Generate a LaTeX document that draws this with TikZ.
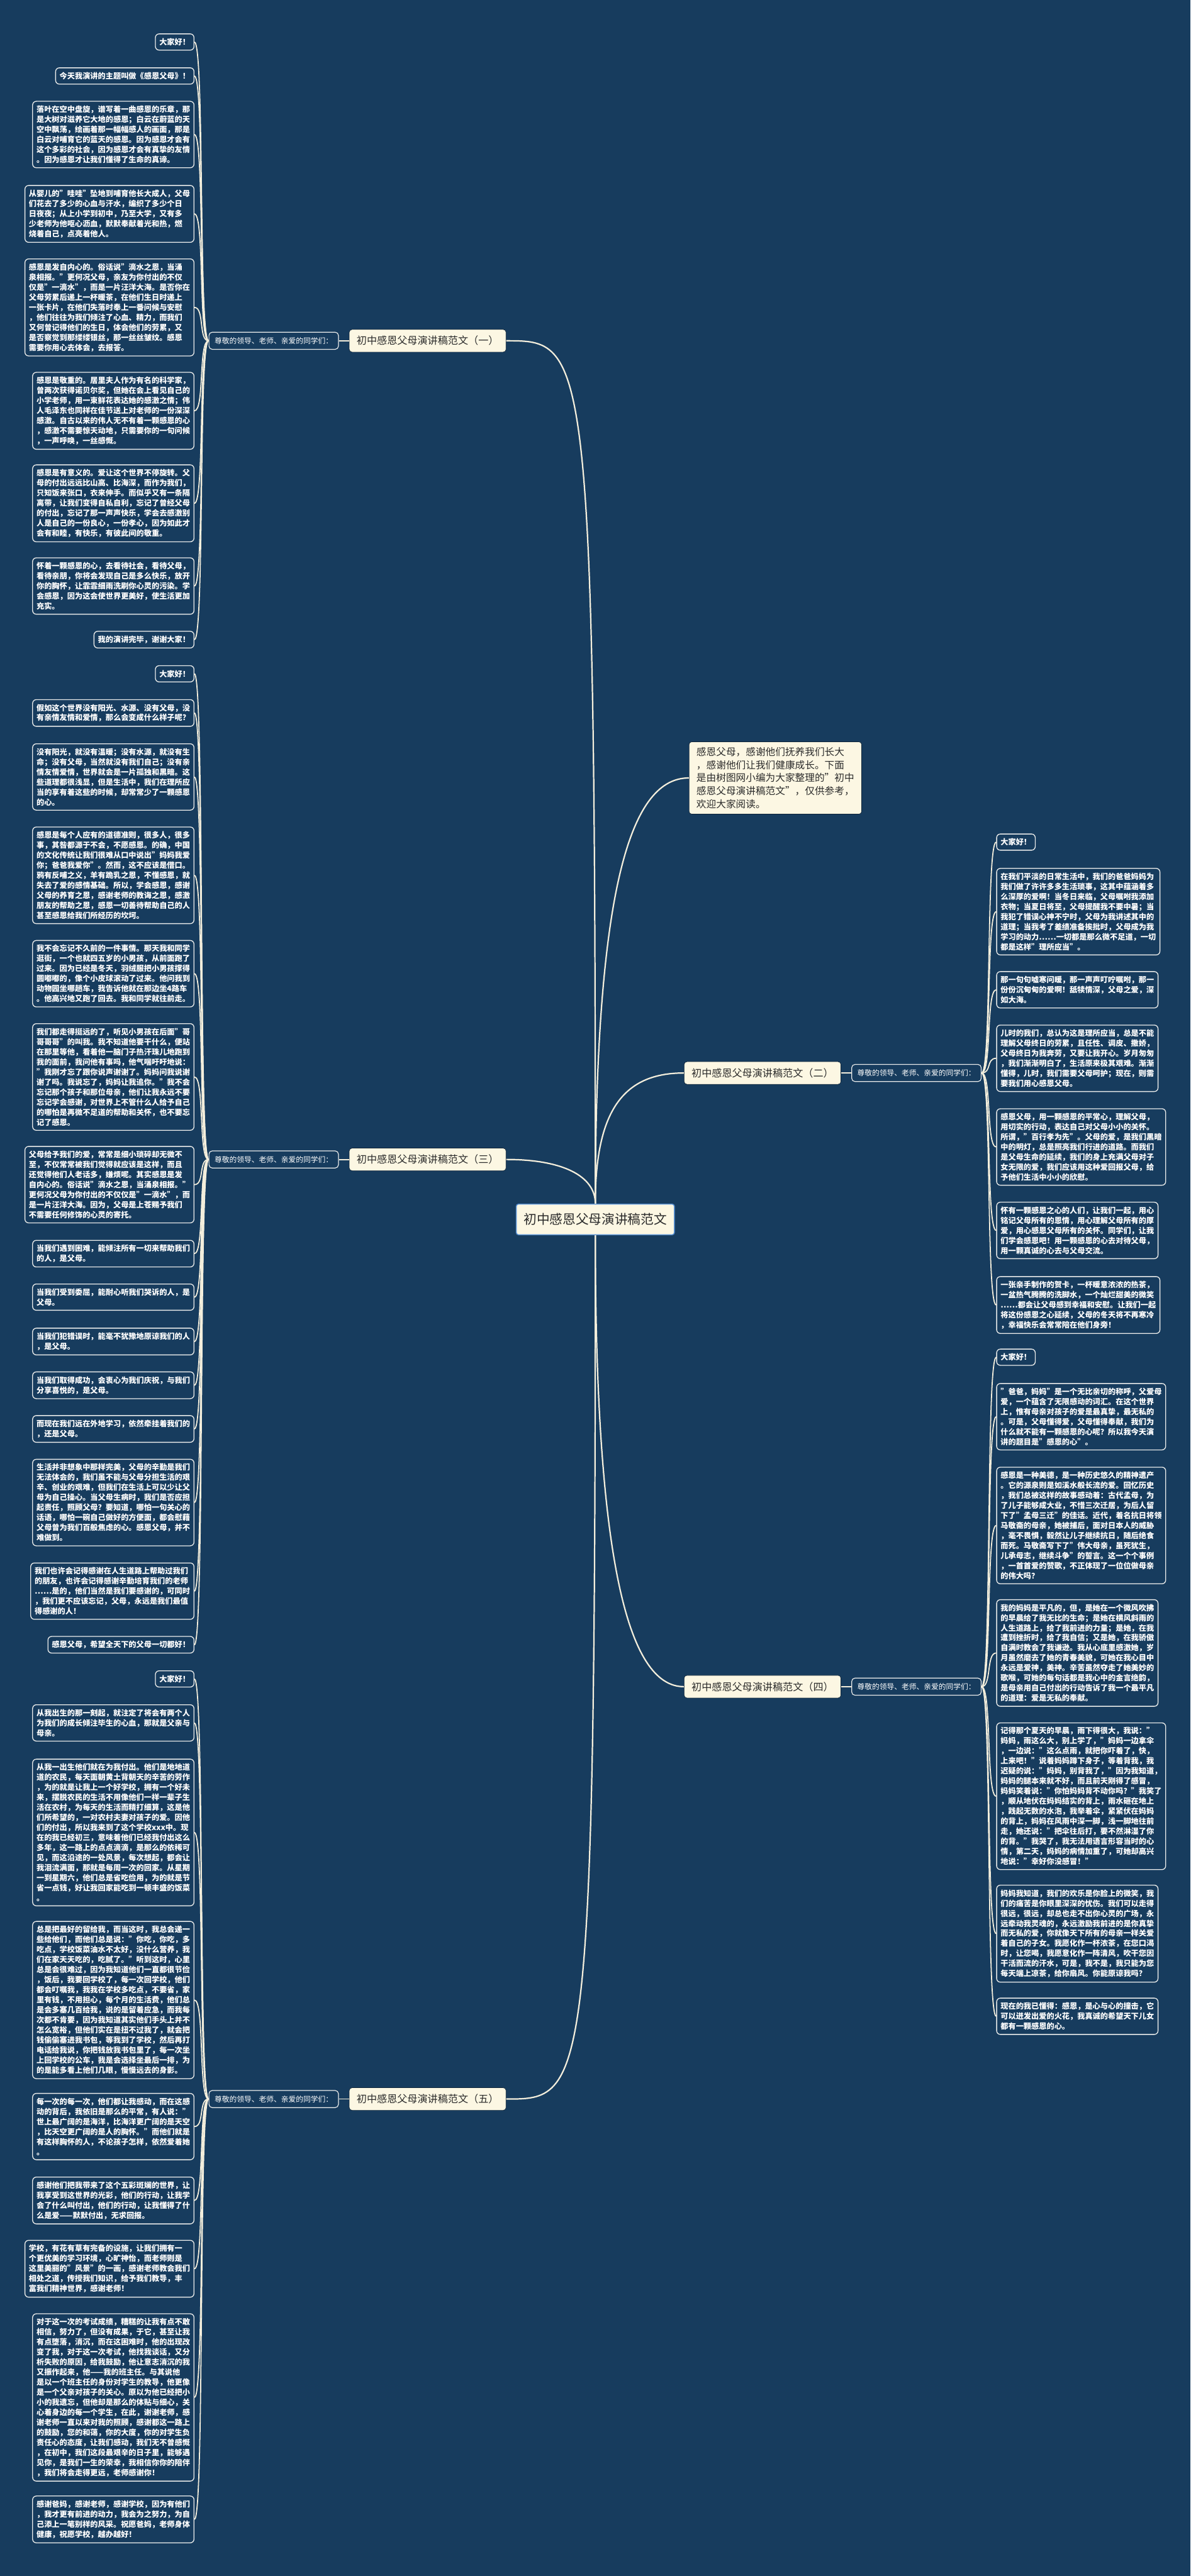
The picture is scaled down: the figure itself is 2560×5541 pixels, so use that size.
\documentclass[tikz,border=0pt]{standalone}
\usepackage{fontspec}
\setmainfont{Noto Sans CJK SC}
\definecolor{bg}{HTML}{173C5E}
\definecolor{cream}{HTML}{FCF7E3}
\definecolor{linec}{HTML}{F3EEDC}
\definecolor{leafb}{HTML}{E9EBEA}
\definecolor{darktxt}{HTML}{2B2B2B}
\definecolor{cblue}{HTML}{5C94D6}
\tikzset{
 conn/.style={draw=linec, line width=3pt},
 lconn/.style={draw=linec, line width=2.4pt},
 leaf/.style={draw=leafb, line width=1.8pt, fill=bg, rounded corners=8pt, text=white, align=left, inner xsep=8.5pt, inner ysep=9.5pt, font=\bfseries\fontsize{16.5pt}{21.6pt}\selectfont},
 lleaf/.style={leaf, anchor=north east},
 rleaf/.style={leaf, anchor=north west},
 sect/.style={fill=cream, draw=bg!60!black, line width=1pt, rounded corners=6pt, text=darktxt, inner xsep=16pt, inner ysep=14pt, font=\fontsize{21.8pt}{26pt}\selectfont},
 lab/.style={fill=bg, draw=leafb, line width=1.6pt, rounded corners=7pt, text=white, inner xsep=12pt, inner ysep=11pt, font=\fontsize{15.9pt}{19pt}\selectfont},
 root/.style={fill=cream, draw=cblue, line width=2pt, rounded corners=5pt, text=darktxt, inner xsep=16pt, inner ysep=20pt, font=\fontsize{28pt}{32pt}\selectfont},
 intro/.style={fill=cream, draw=bg!60!black, line width=1pt, rounded corners=6pt, text=darktxt, align=left, inner xsep=16pt, inner ysep=12pt, anchor=north west, font=\fontsize{21.2pt}{28pt}\selectfont},
}
\begin{document}
\begin{tikzpicture}[x=1pt,y=-1pt]
\fill[bg] (0,0) rectangle (2560,5541);
\useasboundingbox (0,0) rectangle (2560,5541);

% root and sections
\node[root] (c) at (1280,2623) {初中感恩父母演讲稿范文};
\node[intro] (intro) at (1481,1595) {感恩父母，感谢他们抚养我们长大\\，感谢他们让我们健康成长。下面\\是由树图网小编为大家整理的"初中\\感恩父母演讲稿范文"，仅供参考，\\欢迎大家阅读。};
\node[sect] (s1) at (919.5,733) {初中感恩父母演讲稿范文（一）};
\node[sect] (s2) at (1639.5,2308) {初中感恩父母演讲稿范文（二）};
\node[sect] (s3) at (919.5,2494) {初中感恩父母演讲稿范文（三）};
\node[sect] (s4) at (1639.5,3628) {初中感恩父母演讲稿范文（四）};
\node[sect] (s5) at (919.5,4515) {初中感恩父母演讲稿范文（五）};
\node[lab] (a1) at (588.5,733) {尊敬的领导、老师、亲爱的同学们：};
\node[lab] (a2) at (1970.5,2308) {尊敬的领导、老师、亲爱的同学们：};
\node[lab] (a3) at (588.5,2494) {尊敬的领导、老师、亲爱的同学们：};
\node[lab] (a4) at (1970.5,3628) {尊敬的领导、老师、亲爱的同学们：};
\node[lab] (a5) at (588.5,4515) {尊敬的领导、老师、亲爱的同学们：};

% (一)
\node[lleaf] (l1) at (418,72) {大家好！};
\node[lleaf] (l2) at (418,145) {今天我演讲的主题叫做《感恩父母》！};
\node[lleaf] (l3) at (418,217) {落叶在空中盘旋，谱写着一曲感恩的乐章，那\\是大树对滋养它大地的感恩；白云在蔚蓝的天\\空中飘荡，绘画着那一幅幅感人的画面，那是\\白云对哺育它的蓝天的感恩。因为感恩才会有\\这个多彩的社会，因为感恩才会有真挚的友情\\。因为感恩才让我们懂得了生命的真谛。};
\node[lleaf] (l4) at (418,398) {从婴儿的"哇哇"坠地到哺育他长大成人，父母\\们花去了多少的心血与汗水，编织了多少个日\\日夜夜；从上小学到初中，乃至大学，又有多\\少老师为他呕心沥血，默默奉献着光和热，燃\\烧着自己，点亮着他人。};
\node[lleaf] (l5) at (418,556) {感恩是发自内心的。俗话说"滴水之恩，当涌\\泉相报。"更何况父母，亲友为你付出的不仅\\仅是"一滴水"，而是一片汪洋大海。是否你在\\父母劳累后递上一杯暖茶，在他们生日时递上\\一张卡片，在他们失落时奉上一番问候与安慰\\，他们往往为我们倾注了心血、精力，而我们\\又何曾记得他们的生日，体会他们的劳累，又\\是否察觉到那缕缕银丝，那一丝丝皱纹。感恩\\需要你用心去体会，去报答。};
\node[lleaf] (l6) at (418,800) {感恩是敬重的。居里夫人作为有名的科学家，\\曾两次获得诺贝尔奖，但她在会上看见自己的\\小学老师，用一束鲜花表达她的感激之情；伟\\人毛泽东也同样在佳节送上对老师的一份深深\\感激。自古以来的伟人无不有着一颗感恩的心\\，感激不需要惊天动地，只需要你的一句问候\\，一声呼唤，一丝感慨。};
\node[lleaf] (l7) at (418,999) {感恩是有意义的。爱让这个世界不停旋转。父\\母的付出远远比山高、比海深，而作为我们，\\只知饭来张口，衣来伸手。而似乎又有一条隔\\离带，让我们变得自私自利，忘记了曾经父母\\的付出，忘记了那一声声快乐，学会去感激别\\人是自己的一份良心，一份孝心，因为如此才\\会有和睦，有快乐，有彼此间的敬重。};
\node[lleaf] (l8) at (418,1199) {怀着一颗感恩的心，去看待社会，看待父母，\\看待亲朋，你将会发现自己是多么快乐，放开\\你的胸怀，让霏霏细雨洗刷你心灵的污染。学\\会感恩，因为这会使世界更美好，使生活更加\\充实。};
\node[lleaf] (l9) at (418,1357) {我的演讲完毕，谢谢大家！};

% (三)
\node[lleaf] (t1) at (418,1431) {大家好！};
\node[lleaf] (t2) at (418,1504) {假如这个世界没有阳光、水源、没有父母，没\\有亲情友情和爱情，那么会变成什么样子呢？};
\node[lleaf] (t3) at (418,1599) {没有阳光，就没有温暖；没有水源，就没有生\\命；没有父母，当然就没有我们自己；没有亲\\情友情爱情，世界就会是一片孤独和黑暗。这\\些道理都很浅显，但是生活中，我们在理所应\\当的享有着这些的时候，却常常少了一颗感恩\\的心。};
\node[lleaf] (t4) at (418,1778) {感恩是每个人应有的道德准则，很多人，很多\\事，其咎都源于不会，不愿感恩。的确，中国\\的文化传统让我们很难从口中说出"妈妈我爱\\你；爸爸我爱你"。然而，这不应该是借口。\\鸦有反哺之义，羊有跪乳之恩，不懂感恩，就\\失去了爱的感情基础。所以，学会感恩，感谢\\父母的养育之恩，感谢老师的教诲之恩，感激\\朋友的帮助之恩，感恩一切善待帮助自己的人\\甚至感恩给我们所经历的坎坷。};
\node[lleaf] (t5) at (418,2022) {我不会忘记不久前的一件事情。那天我和同学\\逛街，一个也就四五岁的小男孩，从前面跑了\\过来。因为已经是冬天，羽绒服把小男孩撑得\\圆嘟嘟的，像个小皮球滚动了过来。他问我到\\动物园坐哪趟车，我告诉他就在那边坐4路车\\。他高兴地又跑了回去。我和同学就往前走。};
\node[lleaf] (t6) at (418,2201) {我们都走得挺远的了，听见小男孩在后面"哥\\哥哥哥"的叫我。我不知道他要干什么，便站\\在那里等他，看着他一脑门子热汗珠儿地跑到\\我的面前，我问他有事吗，他气喘吁吁地说：\\"我刚才忘了跟你说声谢谢了。妈妈问我说谢\\谢了吗。我说忘了，妈妈让我追你。"我不会\\忘记那个孩子和那位母亲，他们让我永远不要\\忘记学会感谢，对世界上不管什么人给予自己\\的哪怕是再微不足道的帮助和关怀，也不要忘\\记了感恩。};
\node[lleaf] (t7) at (418,2465) {父母给予我们的爱，常常是细小琐碎却无微不\\至，不仅常常被我们觉得就应该是这样，而且\\还觉得他们人老话多，嫌烦呢。其实感恩是发\\自内心的。俗话说"滴水之恩，当涌泉相报。"\\更何况父母为你付出的不仅仅是"一滴水"，而\\是一片汪洋大海。因为，父母是上苍赐予我们\\不需要任何修饰的心灵的寄托。};
\node[lleaf] (t8) at (418,2667) {当我们遇到困难，能倾注所有一切来帮助我们\\的人，是父母。};
\node[lleaf] (t9) at (418,2761) {当我们受到委屈，能耐心听我们哭诉的人，是\\父母。};
\node[lleaf] (t10) at (418,2856) {当我们犯错误时，能毫不犹豫地原谅我们的人\\，是父母。};
\node[lleaf] (t11) at (418,2950) {当我们取得成功，会衷心为我们庆祝，与我们\\分享喜悦的，是父母。};
\node[lleaf] (t12) at (418,3044) {而现在我们远在外地学习，依然牵挂着我们的\\，还是父母。};
\node[lleaf] (t13) at (418,3138) {生活并非想象中那样完美，父母的辛勤是我们\\无法体会的，我们虽不能与父母分担生活的艰\\辛、创业的艰难，但我们在生活上可以少让父\\母为自己操心。当父母生病时，我们是否应担\\起责任，照顾父母？要知道，哪怕一句关心的\\话语，哪怕一碗自己做好的方便面，都会慰藉\\父母曾为我们百般焦虑的心。感恩父母，并不\\难做到。};
\node[lleaf] (t14) at (418,3361) {我们也许会记得感谢在人生道路上帮助过我们\\的朋友，也许会记得感谢辛勤培育我们的老师\\……是的，他们当然是我们要感谢的，可同时\\，我们更不应该忘记，父母，永远是我们最值\\得感谢的人！};
\node[lleaf] (t15) at (418,3519) {感恩父母，希望全天下的父母一切都好！};

% (五)
\node[lleaf] (f1) at (418,3593) {大家好！};
\node[lleaf] (f2) at (418,3666) {从我出生的那一刻起，就注定了将会有两个人\\为我们的成长倾注毕生的心血，那就是父亲与\\母亲。};
\node[lleaf] (f3) at (418,3783) {从我一出生他们就在为我付出。他们是地地道\\道的农民，每天面朝黄土背朝天的辛苦的劳作\\，为的就是让我上一个好学校，拥有一个好未\\来，摆脱农民的生活不用像他们一样一辈子生\\活在农村，为每天的生活而精打细算，这是他\\们所希望的，一对农村夫妻对孩子的爱。因他\\们的付出，所以我来到了这个学校xxx中。现\\在的我已经初三，意味着他们已经我付出这么\\多年，这一路上的点点滴滴，是那么的依稀可\\见，而这沿途的一处风景，每次想起，都会让\\我泪流满面，那就是每周一次的回家。从星期\\一到星期六，他们总是省吃俭用，为的就是节\\省一点钱，好让我回家能吃到一顿丰盛的饭菜\\。};
\node[lleaf] (f4) at (418,4132) {总是把最好的留给我，而当这时，我总会递一\\些给他们，而他们总是说："你吃，你吃，多\\吃点，学校饭菜油水不太好，没什么营养，我\\们在家天天吃的，吃腻了。"听到这时，心里\\总是会很难过，因为我知道他们一直都很节俭\\，饭后，我要回学校了，每一次回学校，他们\\都会叮嘱我，我我在学校多吃点，不要省，家\\里有钱，不用担心，每个月的生活费，他们总\\是会多塞几百给我，说的是留着应急，而我每\\次都不肯要，因为我知道其实他们手头上并不\\怎么宽裕，但他们实在是扭不过我了，就会把\\钱偷偷塞进我书包，等我到了学校，然后再打\\电话给我说，你把钱放我书包里了，每一次坐\\上回学校的公车，我是会选择坐最后一排，为\\的是能多看上他们几眼，慢慢远去的身影。};
\node[lleaf] (f5) at (418,4502) {每一次的每一次，他们都让我感动，而在这感\\动的背后，我依旧是那么的平常，有人说："\\世上最广阔的是海洋，比海洋更广阔的是天空\\，比天空更广阔的是人的胸怀。"而他们就是\\有这样胸怀的人，不论孩子怎样，依然爱着她\\。};
\node[lleaf] (f6) at (418,4682) {感谢他们把我带来了这个五彩斑斓的世界，让\\我享受到这世界的光彩，他们的行动，让我学\\会了什么叫付出，他们的行动，让我懂得了什\\么是爱——默默付出，无求回报。};
\node[lleaf] (f7) at (418,4818) {学校，有花有草有完备的设施，让我们拥有一\\个更优美的学习环境，心旷神怡，而老师则是\\这里美丽的"风景"的一画，感谢老师教会我们\\相处之道，传授我们知识，给予我们教导，丰\\富我们精神世界，感谢老师！};
\node[lleaf] (f8) at (418,4976) {对于这一次的考试成绩，糟糕的让我有点不敢\\相信，努力了，但没有成果，于它，甚至让我\\有点堕落，消沉，而在这困难时，他的出现改\\变了我，对于这一次考试，他找我谈话，又分\\析失败的原因，给我鼓励，他让意志消沉的我\\又振作起来，他——我的班主任。与其说他\\是以一个班主任的身份对学生的教导，他更像\\是一个父亲对孩子的关心。原以为他已经把小\\小的我遗忘，但他却是那么的体贴与细心，关\\心着身边的每一个学生，在此，谢谢老师，感\\谢老师一直以来对我的照顾，感谢都这一路上\\的鼓励，您的和蔼，你的大度，你的对学生负\\责任心的态度，让我们感动，我们无不曾感慨\\，在初中，我们这段最艰辛的日子里，能够遇\\见你，是我们一生的荣幸，我相信你你的陪伴\\，我们将会走得更远，老师感谢你！};
\node[lleaf] (f9) at (418,5368) {感谢爸妈，感谢老师，感谢学校，因为有他们\\，我才更有前进的动力，我会为之努力，为自\\己添上一笔别样的风采。祝愿爸妈，老师身体\\健康，祝愿学校，越办越好！};

% (二)
\node[rleaf] (r1) at (2142,1793) {大家好！};
\node[rleaf] (r2) at (2142,1867) {在我们平淡的日常生活中，我们的爸爸妈妈为\\我们做了许许多多生活琐事，这其中蕴涵着多\\么深厚的爱啊！当冬日来临，父母嘱咐我添加\\衣物；当夏日将至，父母提醒我不要中暑；当\\我犯了错误心神不宁时，父母为我讲述其中的\\道理；当我考了差绩准备挨批时，父母成为我\\学习的动力……一切都是那么微不足道，一切\\都是这样"理所应当"。};
\node[rleaf] (r3) at (2142,2089) {那一句句嘘寒问暖，那一声声叮咛嘱咐，那一\\份份沉甸甸的爱啊！舐犊情深，父母之爱，深\\如大海。};
\node[rleaf] (r4) at (2142,2204) {儿时的我们，总认为这是理所应当，总是不能\\理解父母终日的劳累，且任性、调皮、撒娇，\\父母终日为我奔劳，又要让我开心。岁月匆匆\\，我们渐渐明白了，生活原来极其艰难。渐渐\\懂得，儿时，我们需要父母呵护；现在，则需\\要我们用心感恩父母。};
\node[rleaf] (r5) at (2142,2384) {感恩父母，用一颗感恩的平常心，理解父母，\\用切实的行动，表达自己对父母小小的关怀。\\所谓，"百行孝为先"。父母的爱，是我们黑暗\\中的明灯，总是照亮我们行进的道路。而我们\\是父母生命的延续，我们的身上充满父母对子\\女无限的爱，我们应该用这种爱回报父母，给\\予他们生活中小小的欣慰。};
\node[rleaf] (r6) at (2142,2585) {怀有一颗感恩之心的人们，让我们一起，用心\\铭记父母所有的恩情，用心理解父母所有的厚\\爱，用心感恩父母所有的关怀。同学们，让我\\们学会感恩吧！用一颗感恩的心去对待父母，\\用一颗真诚的心去与父母交流。};
\node[rleaf] (r7) at (2142,2745) {一张亲手制作的贺卡，一杯暖意浓浓的热茶，\\一盆热气腾腾的洗脚水，一个灿烂甜美的微笑\\……都会让父母感到幸福和安慰。让我们一起\\将这份感恩之心延续，父母的冬天将不再寒冷\\，幸福快乐会常常陪在他们身旁！};

% (四)
\node[rleaf] (q1) at (2142,2901) {大家好！};
\node[rleaf] (q2) at (2142,2975) {"爸爸，妈妈"是一个无比亲切的称呼，父爱母\\爱，一个蕴含了无限感动的词汇。在这个世界\\上，惟有母亲对孩子的爱是最真挚，最无私的\\。可是，父母懂得爱，父母懂得奉献，我们为\\什么就不能有一颗感恩的心呢？所以我今天演\\讲的题目是"感恩的心"。};
\node[rleaf] (q3) at (2142,3155) {感恩是一种美德，是一种历史悠久的精神遗产\\。它的源泉则是如溪水般长流的爱。回忆历史\\，我们总被这样的故事感动着：古代孟母，为\\了儿子能够成大业，不惜三次迁居，为后人留\\下了"孟母三迁"的佳话。近代，着名抗日将领\\马敬斋的母亲，她被捕后，面对日本人的威胁\\，毫不畏惧，毅然让儿子继续抗日，随后绝食\\而死。马敬斋写下了"伟大母亲，虽死犹生，\\儿承母志，继续斗争"的誓言。这一个个事例\\，一首首爱的赞歌，不正体现了一位位做母亲\\的伟大吗？};
\node[rleaf] (q4) at (2142,3440) {我的妈妈是平凡的，但，是她在一个微风吹拂\\的早晨给了我无比的生命；是她在横风斜雨的\\人生道路上，给了我前进的力量；是她，在我\\遭到挫折时，给了我自信；又是她，在我骄傲\\自满时教会了我谦逊。我从心底里感激她，岁\\月虽然磨去了她的青春美貌，可她在我心目中\\永远是爱神，美神。辛苦虽然夺走了她美妙的\\歌喉，可她的每句话都是我心中的金言绝韵，\\是母亲用自己付出的行动告诉了我一个最平凡\\的道理：爱是无私的奉献。};
\node[rleaf] (q5) at (2142,3705) {记得那个夏天的早晨，雨下得很大，我说："\\妈妈，雨这么大，别上学了，"妈妈一边拿伞\\，一边说："这么点雨，就把你吓着了，快，\\上来吧！"说着妈妈蹲下身子，等着背我，我\\迟疑的说："妈妈，别背我了，"因为我知道，\\妈妈的腿本来就不好，而且前天刚得了感冒，\\妈妈笑着说："你怕妈妈背不动你吗？"我笑了\\，顺从地伏在妈妈结实的背上，雨水砸在地上\\，践起无数的水泡，我举着伞，紧紧伏在妈妈\\的背上，妈妈在风雨中深一脚，浅一脚地往前\\走，她还说："把伞往后打，要不然淋湿了你\\的背。"我哭了，我无法用语言形容当时的心\\情，第二天，妈妈的病情加重了，可她却高兴\\地说："幸好你没感冒！"};
\node[rleaf] (q6) at (2142,4054) {妈妈我知道，我们的欢乐是你脸上的微笑，我\\们的痛苦是你眼里深深的忧伤。我们可以走得\\很远，很远，却总也走不出你心灵的广场，永\\远牵动我灵魂的，永远激励我前进的是你真挚\\而无私的爱，你就像天下所有的母亲一样关爱\\着自己的子女。我愿化作一杯浓茶，在您口渴\\时，让您喝，我愿意化作一阵清风，吹干您因\\干活而流的汗水，可是，我不是，我只能为您\\每天端上凉茶，给你扇风。你能原谅我吗？};
\node[rleaf] (q7) at (2142,4297) {现在的我已懂得：感恩，是心与心的撞击，它\\可以迸发出爱的火花，我真诚的希望天下儿女\\都有一颗感恩的心。};

% main connectors
\draw[conn] (c.north) .. controls +(0,-1857) and +(172,0) .. (s1.east);
\draw[conn] (c.north) .. controls +(0,-700) and +(-120,0) .. (intro.west);
\draw[conn] (c.north) .. controls +(0,-200) and +(-130,0) .. (s2.west);
\draw[conn] (c.north) .. controls +(0,-60) and +(120,0) .. (s3.east);
\draw[conn] (c.south) .. controls +(0,700) and +(-120,0) .. (s4.west);
\draw[conn] (c.south) .. controls +(0,1858) and +(172,0) .. (s5.east);
\foreach \s/\a in {s1/a1,s3/a3,s5/a5} \draw[lconn] (\s.west) -- (\a.east);
\foreach \s/\a in {s2/a2,s4/a4} \draw[lconn] (\s.east) -- (\a.west);

% leaf connectors
\foreach \n in {l1,l2,l3,l4,l5,l6,l7,l8,l9}
  \draw[lconn] (a1.west) .. controls +(-22,0) and +(22,0) .. (\n.east);
\foreach \n in {t1,t2,t3,t4,t5,t6,t7,t8,t9,t10,t11,t12,t13,t14,t15}
  \draw[lconn] (a3.west) .. controls +(-22,0) and +(22,0) .. (\n.east);
\foreach \n in {f1,f2,f3,f4,f5,f6,f7,f8,f9}
  \draw[lconn] (a5.west) .. controls +(-22,0) and +(22,0) .. (\n.east);
\foreach \n in {r1,r2,r3,r4,r5,r6,r7}
  \draw[lconn] (a2.east) .. controls +(22,0) and +(-22,0) .. (\n.west);
\foreach \n in {q1,q2,q3,q4,q5,q6,q7}
  \draw[lconn] (a4.east) .. controls +(22,0) and +(-22,0) .. (\n.west);
\end{tikzpicture}
\end{document}
